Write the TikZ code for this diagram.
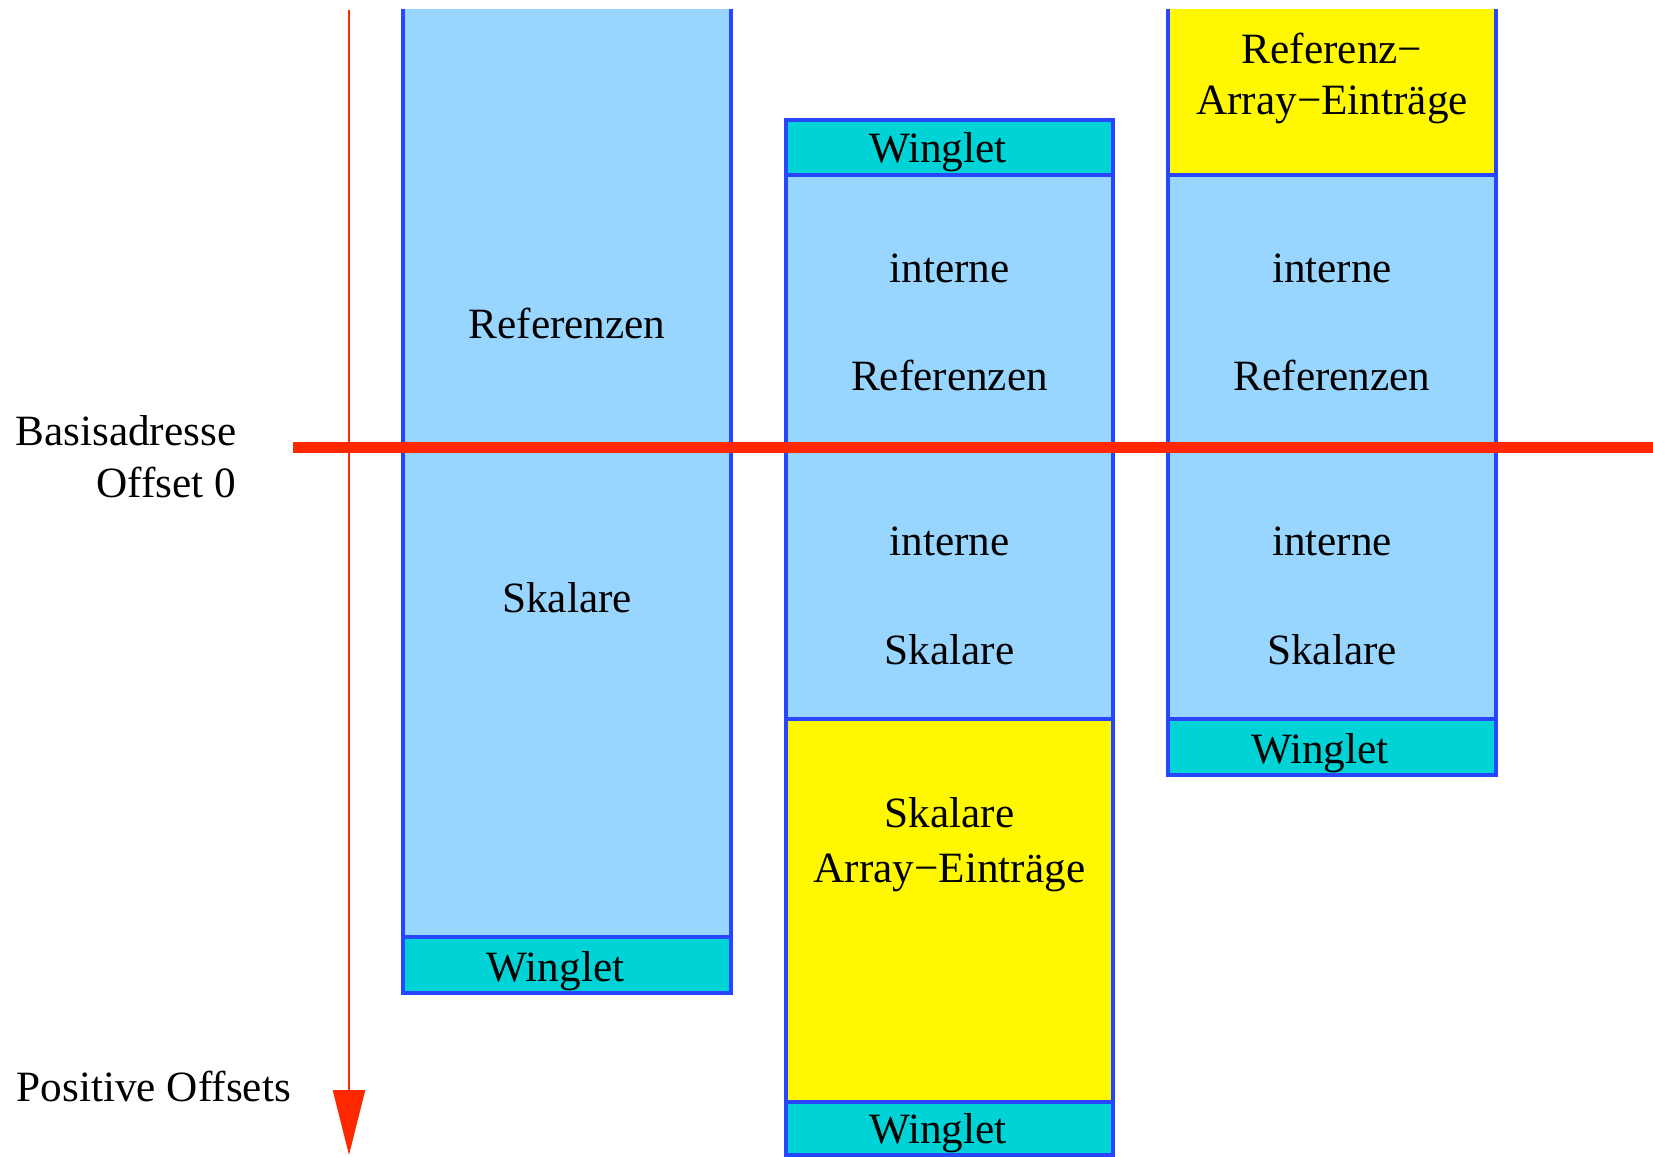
\documentclass[tikz,border=0pt]{standalone}
\usepackage{fontspec}
\setmainfont{Liberation Serif}
\usepackage{tikz}
\usetikzlibrary{arrows.meta}

\definecolor{hellblau}{RGB}{153,214,255}
\definecolor{tuerkis}{RGB}{0,211,214}
\definecolor{gelb}{RGB}{255,248,0}
\definecolor{rot}{RGB}{255,40,0}
\definecolor{rahmen}{RGB}{40,70,255}

\tikzset{
  feld/.style={draw=rahmen, line width=0.9pt},
  refbox/.style={feld, fill=hellblau},
  wingbox/.style={feld, fill=tuerkis},
  arraybox/.style={feld, fill=gelb},
  txt/.style={anchor=base, inner sep=0pt, font=\fontsize{12.3}{14.6}\selectfont},
}

\begin{document}
\begin{tikzpicture}[x=0.1mm, y=-0.1mm]
\useasboundingbox (0,0) rectangle (1653,1157);
\clip (0,10) rectangle (1653,1157);
%%%%% Spalte 1 %%%%%
\draw[refbox] (403,0) rectangle (731,937);
\draw[wingbox] (403,937) rectangle (731,993);
\node[txt] (refA) at (567,339) {Referenzen};
\node[txt] (skalA) at (567,612) {Skalare};
\node[txt] (wingA) at (555.5,981) {Winglet};
%%%%% Spalte 2 %%%%%
\draw[wingbox] (786,120) rectangle (1113,175);
\draw[refbox] (786,175) rectangle (1113,719);
\draw[arraybox] (786,719) rectangle (1113,1102);
\draw[wingbox] (786,1102) rectangle (1113,1155);
\node[txt] (wingB1) at (938,163) {Winglet};
\node[txt] (skalarrB1) at (949.5,827) {Skalare};
\node[txt] (skalarrB2) at (949.5,882) {Array−Einträge};
\node[txt] (wingB2) at (938,1143) {Winglet};
%%%%% Spalte 3 %%%%%
\draw[arraybox] (1168,0) rectangle (1496,175);
\draw[refbox] (1168,175) rectangle (1496,719);
\draw[wingbox] (1168,719) rectangle (1496,775);
\node[txt] (refarrC1) at (1332,64) {Referenz−};
\node[txt] (refarrC2) at (1332,115) {Array−Einträge};
\node[txt] (wingC) at (1320,763) {Winglet};
\foreach \xm/\k in {949.5/B,1332/C}{
  \node[txt] (intref\k1) at (\xm,283) {interne};
  \node[txt] (intref\k2) at (\xm,390) {Referenzen};
  \node[txt] (intskal\k1) at (\xm,555) {interne};
  \node[txt] (intskal\k2) at (\xm,664) {Skalare};
}
%%%%% Achsen %%%%%
\coordinate (achseoben) at (349,10);
\coordinate (achseunten) at (349,1155);
\draw[rot, line width=0.75pt, -{Triangle[length=6.5mm, width=3.2mm]}] (achseoben) -- (achseunten);
\coordinate (basislinks) at (293,447);
\coordinate (basisrechts) at (1653,447);
\draw[rot, line width=1.1mm] (basislinks) -- (basisrechts);
\node[txt, anchor=base east] (basis) at (237,446) {Basisadresse};
\node[txt, anchor=base east] (offset) at (237,497.5) {Offset 0};
\node[txt, anchor=base west] (positiv) at (16,1101) {Positive Offsets};
\end{tikzpicture}
\end{document}
